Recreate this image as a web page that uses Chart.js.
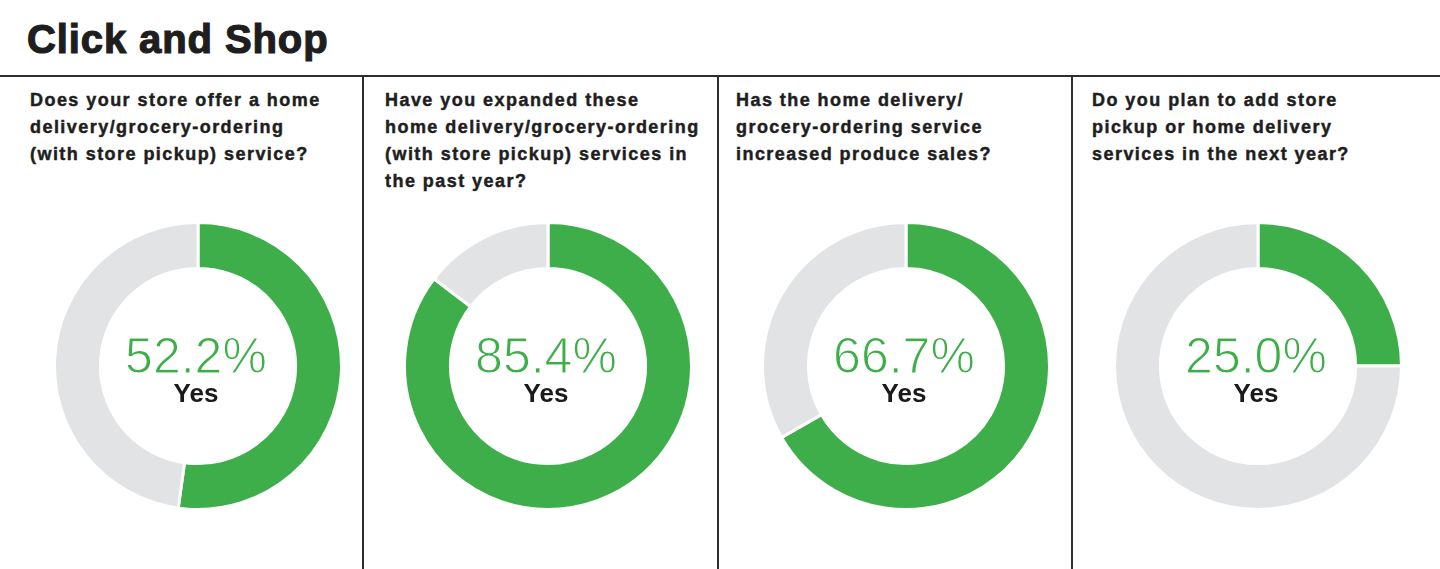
<!DOCTYPE html>
<html>
<head>
<meta charset="utf-8">
<title>Click and Shop</title>
<script src="https://cdn.jsdelivr.net/npm/chart.js@4.4.1/dist/chart.umd.min.js"></script>
<style>
    html, body { margin: 0; padding: 0; background: #fff; }
    body { width: 1440px; height: 569px; position: relative; overflow: hidden; font-family: "Liberation Sans", Arial, sans-serif; color: #1e1e1e; }
    h1 { position: absolute; left: 27px; top: 19px; margin: 0; font-size: 40px; line-height: 40px; font-weight: 700; letter-spacing: 0.9px; -webkit-text-stroke: 1.2px #1e1e1e; }
    .rule { position: absolute; left: 0; top: 75px; width: 1440px; height: 2px; background: #2e2e2e; }
    .vline { position: absolute; top: 76px; width: 2px; height: 493px; background: #2e2e2e; }
    .q { position: absolute; top: 87px; margin: 0; font-size: 18px; line-height: 27px; font-weight: 700; letter-spacing: 1.45px; white-space: nowrap; -webkit-text-stroke: 0.45px #1e1e1e; }
    canvas.donut { position: absolute; }
</style>
</head>
<body>
<h1>Click and Shop</h1>
<div class="rule"></div>
<div id="root"></div>
<script>
(function() {
    'use strict';

    /* ---- Data ---- */
    var questions = [
        ['Does your store offer a home', 'delivery/grocery-ordering', '(with store pickup) service?'],
        ['Have you expanded these', 'home delivery/grocery-ordering', '(with store pickup) services in', 'the past year?'],
        ['Has the home delivery/', 'grocery-ordering service', 'increased produce sales?'],
        ['Do you plan to add store', 'pickup or home delivery', 'services in the next year?']
    ];
    var answerLabels = ['Yes', 'No'];
    var yesPct = [52.2, 85.4, 66.7, 25.0];
    var noPct = [47.8, 14.6, 33.3, 75.0];

    /* ---- Layout ---- */
    var GREEN = '#3dae4a';
    var GREY = '#e2e3e5';
    var textX = [30, 385, 736, 1092];
    var centerX = [198, 548, 906, 1258];
    var centerY = 366;
    var dividers = [362, 717, 1071];
    var SIZE = 290;

    var root = document.getElementById('root');

    dividers.forEach(function(x) {
        var d = document.createElement('div');
        d.className = 'vline';
        d.style.left = x + 'px';
        root.appendChild(d);
    });

    // percentage + "Yes" in the hole
    var centerText = {
        id: 'centerText',
        afterDraw: function(chart) {
            var ctx = chart.ctx;
            var arc = chart.getDatasetMeta(0).data[0];
            var cx = arc.x, cy = arc.y;
            var v = chart.data.datasets[0].data[0];
            var pct = v.toFixed(1) + '%';
            ctx.save();
            ctx.textAlign = 'center';
            ctx.textBaseline = 'alphabetic';
            ctx.fillStyle = GREEN;
            ctx.font = '400 50px "Liberation Sans", Arial, sans-serif';
            ctx.fillText(pct, cx - 2, cy + 7);
            // thin the strokes a little, the original face is a light cut
            ctx.strokeStyle = '#fff';
            ctx.lineWidth = 1.1;
            ctx.strokeText(pct, cx - 2, cy + 7);
            ctx.fillStyle = '#1a1a1a';
            ctx.font = '700 26px "Liberation Sans", Arial, sans-serif';
            ctx.fillText(chart.data.labels[0], cx - 2, cy + 36);
            ctx.restore();
        }
    };

    questions.forEach(function(lines, i) {
        var q = document.createElement('p');
        q.className = 'q';
        q.style.left = textX[i] + 'px';
        q.innerHTML = lines.join('<br>');
        root.appendChild(q);

        var cv = document.createElement('canvas');
        cv.className = 'donut';
        cv.width = SIZE; cv.height = SIZE;
        cv.style.width = SIZE + 'px'; cv.style.height = SIZE + 'px';
        cv.style.left = (centerX[i] - SIZE / 2) + 'px';
        cv.style.top = (centerY - SIZE / 2) + 'px';
        root.appendChild(cv);

        new Chart(cv.getContext('2d'), {
            type: 'doughnut',
            data: {
                labels: answerLabels,
                datasets: [{
                    data: [yesPct[i], noPct[i]],
                    backgroundColor: [GREEN, GREY],
                    borderColor: '#fff',
                    borderWidth: 3
                }]
            },
            options: {
                responsive: false, animation: false, cutout: '68%',
                layout: { padding: 0 },
                plugins: { legend: { display: false }, tooltip: { enabled: false } }
            },
            plugins: [centerText]
        });
    });
})();
</script>
</body>
</html>
